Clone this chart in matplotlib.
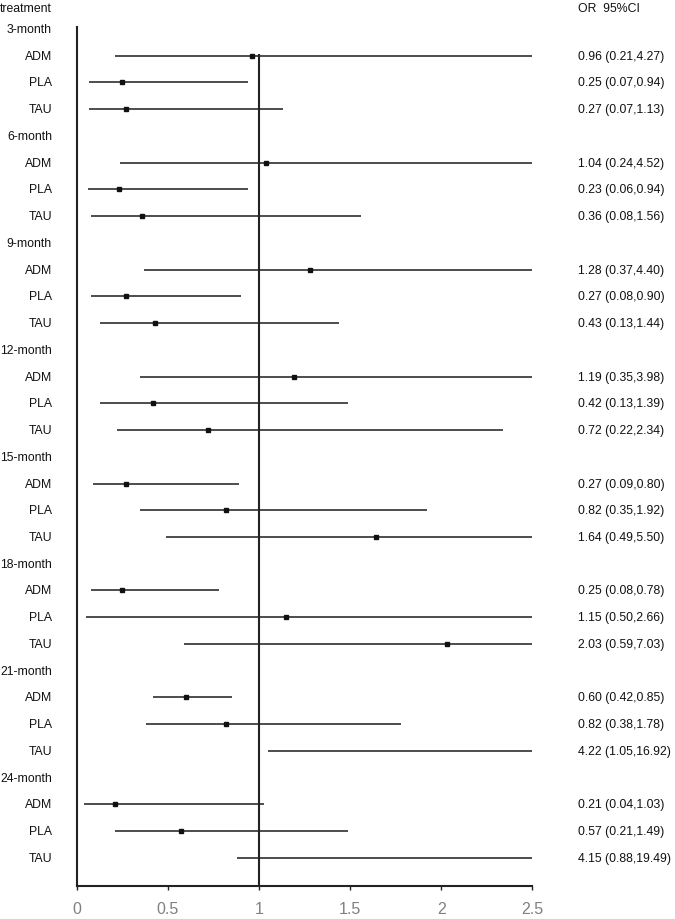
import matplotlib
matplotlib.use("Agg")
import matplotlib.pyplot as plt
import matplotlib.transforms as mtransforms

plt.rcParams['font.family'] = ['Liberation Sans', 'DejaVu Sans']

# 随访时间点与治疗组
periods = ['3-month', '6-month', '9-month', '12-month',
           '15-month', '18-month', '21-month', '24-month']
groups = ['ADM', 'PLA', 'TAU']

# 图中画出的 OR 及置信区间
or_vals = [0.96, 0.25, 0.27,
           1.04, 0.23, 0.36,
           1.28, 0.27, 0.43,
           1.19, 0.42, 0.72,
           0.27, 0.82, 1.64,
           0.25, 1.15, 2.03,
           0.60, 0.82, 4.22,
           0.21, 0.57, 4.15]
ci_low = [0.21, 0.07, 0.07,
          0.24, 0.06, 0.08,
          0.37, 0.08, 0.13,
          0.35, 0.13, 0.22,
          0.09, 0.35, 0.49,
          0.08, 0.05, 0.59,
          0.42, 0.38, 1.05,
          0.04, 0.21, 0.88]
ci_high = [4.27, 0.94, 1.13,
           4.52, 0.94, 1.56,
           4.40, 0.90, 1.44,
           3.98, 1.49, 2.34,
           0.89, 1.92, 5.50,
           0.78, 2.66, 7.03,
           0.85, 1.78, 16.92,
           1.03, 1.49, 19.49]
# 右侧文字（原图文字）
or_text = ['0.96 (0.21,4.27)', '0.25 (0.07,0.94)', '0.27 (0.07,1.13)',
           '1.04 (0.24,4.52)', '0.23 (0.06,0.94)', '0.36 (0.08,1.56)',
           '1.28 (0.37,4.40)', '0.27 (0.08,0.90)', '0.43 (0.13,1.44)',
           '1.19 (0.35,3.98)', '0.42 (0.13,1.39)', '0.72 (0.22,2.34)',
           '0.27 (0.09,0.80)', '0.82 (0.35,1.92)', '1.64 (0.49,5.50)',
           '0.25 (0.08,0.78)', '1.15 (0.50,2.66)', '2.03 (0.59,7.03)',
           '0.60 (0.42,0.85)', '0.82 (0.38,1.78)', '4.22 (1.05,16.92)',
           '0.21 (0.04,1.03)', '0.57 (0.21,1.49)', '4.15 (0.88,19.49)']
x_ticks = [0, 0.5, 1, 1.5, 2, 2.5]
x_tick_labels = ['0', '0.5', '1', '1.5', '2', '2.5']

fig = plt.figure(figsize=(6.75, 9.2), dpi=100)
ax = fig.add_axes([0.1136, 0.0359, 0.6752, 0.9334])

# 行位置：每个时间点一行标题 + 三行数据
label_rows = []
row = 0
k = 0
for p in periods:
    label_rows.append((row, p, 'period'))
    row += 1
    for g in groups:
        label_rows.append((row, g, k))
        row += 1
        k += 1
n_rows = row
y_bottom = n_rows + 0.05

fs = 8.8
trans = mtransforms.blended_transform_factory(fig.transFigure, ax.transData)
for r, name, idx in label_rows:
    ax.text(0.077, r, name, transform=trans, ha='right', va='center',
            fontsize=fs, color='#111111')
    if idx != 'period':
        ax.plot([ci_low[idx], ci_high[idx]], [r, r], color='#262626',
                lw=1.15, solid_capstyle='butt')
        ax.plot(or_vals[idx], r, marker='s', ms=2.3, color='#111111', ls='none')
        ax.text(0.856, r, or_text[idx], transform=trans, ha='left',
                va='center', fontsize=fs, color='#111111')

ax.text(0.0, -0.785, 'treatment', transform=trans, ha='left', va='center',
        fontsize=fs, color='#111111')
ax.text(0.856, -0.785, 'OR  95%CI', transform=trans, ha='left', va='center',
        fontsize=fs, color='#111111')

# 参考线 OR = 1
ax.vlines(1, 0.95, y_bottom, color='#222222', lw=1.5)

ax.set_xlim(0, 2.5)
ax.set_ylim(y_bottom, -0.064)
ax.set_xticks(x_ticks)
ax.set_xticklabels(x_tick_labels, fontsize=11.5, color='#808080')
ax.set_yticks([])
ax.tick_params(axis='x', direction='out', length=3, width=1, color='#222222', pad=8)
for s in ['top', 'right']:
    ax.spines[s].set_visible(False)
for s in ['left', 'bottom']:
    ax.spines[s].set_linewidth(1.5)
    ax.spines[s].set_color('#222222')

fig.savefig('out.png', dpi=100)
